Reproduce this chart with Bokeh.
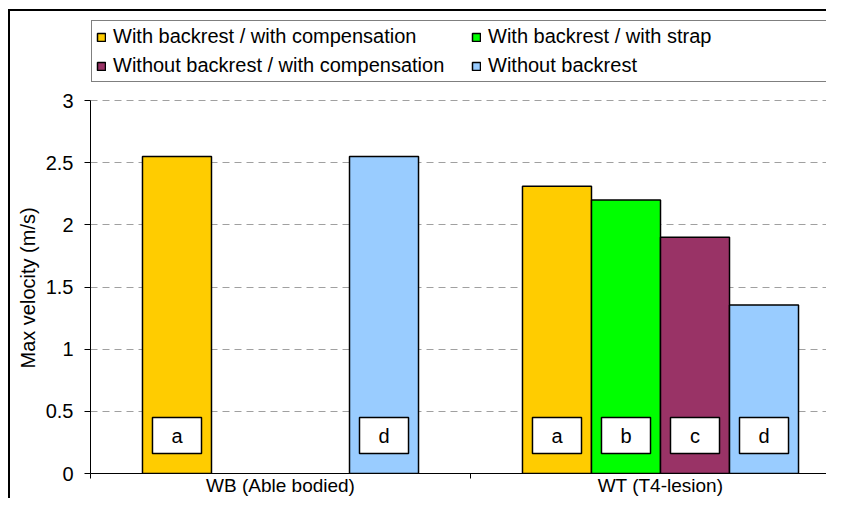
from bokeh.plotting import figure
from bokeh.models import FixedTicker, Legend, LegendItem, Range1d, Title
from bokeh.embed import file_html
from bokeh.resources import INLINE
from bokeh.core.properties import value

# ---- data ----
categories = ["WB (Able bodied)", "WT (T4-lesion)"]
series_names = [
    "With backrest / with compensation",
    "With backrest / with strap",
    "Without backrest / with compensation",
    "Without backrest",
]
series_letters = ["a", "b", "c", "d"]
series_colors = ["#FFCC00", "#00FF00", "#993366", "#99CCFF"]
with_backrest_comp = [2.55, 2.31]
with_backrest_strap = [None, 2.2]
without_backrest_comp = [None, 1.9]
without_backrest = [2.55, 1.355]
series_values = [with_backrest_comp, with_backrest_strap, without_backrest_comp, without_backrest]
y_ticks = [0, 0.5, 1, 1.5, 2, 2.5, 3]
y_tick_labels = ["0", "0.5", "1", "1.5", "2", "2.5", "3"]
y_title = "Max velocity (m/s)"

FONT = "Liberation Sans"
BAR_W = 0.1816
BOX_W = 0.129
BOX_BOTTOM, BOX_TOP = 0.16, 0.45
Y_MAX = 3
FIG_W, FIG_H = 826, 498
LEFT, TOP, BOTTOM = 90, 19, 25
FRAME_H = FIG_H - TOP - BOTTOM      # frame extends above the value axis to hold the legend
AXIS_H = 373                        # pixel height of 0..3
FRAME_W, CAT_W = FIG_W - LEFT, 380

p = figure(width=FIG_W, height=FIG_H, output_backend="svg", toolbar_location=None,
           x_range=Range1d(0, FRAME_W / CAT_W), y_range=Range1d(0, Y_MAX * FRAME_H / AXIS_H),
           min_border_left=LEFT, min_border_top=TOP, min_border_bottom=BOTTOM, min_border_right=0)
p.styles = {
    "background": "linear-gradient(#000,#000) 8px 9px / 2px 100% no-repeat, "
                  "linear-gradient(#000,#000) 8px 9px / 100% 2px no-repeat, #fff"
}
p.border_fill_alpha = 0
p.outline_line_color = None
p.background_fill_color = "white"

# axes
p.xaxis.ticker = FixedTicker(ticks=[0.5, 1.5], minor_ticks=[0, 1, 2])
p.xaxis.major_label_overrides = {0.5: categories[0], 1.5: categories[1]}
p.xaxis.major_tick_out = 0
p.xaxis.major_tick_in = 0
p.xaxis.minor_tick_out = 5
p.xaxis.minor_tick_in = 0
p.xaxis.minor_tick_line_color = "black"
p.xaxis.major_label_standoff = -4
p.xaxis.axis_label_standoff = 0
p.xaxis.axis_line_color = "black"

p.yaxis.ticker = FixedTicker(ticks=y_ticks)
p.yaxis.bounds = (0, Y_MAX)
p.yaxis.major_label_overrides = {t: l for t, l in zip(y_ticks, y_tick_labels)}
p.yaxis.major_tick_out = 6
p.yaxis.major_tick_in = 0
p.yaxis.minor_tick_line_color = None
p.yaxis.major_label_standoff = 11
p.yaxis.axis_label_standoff = 0
p.yaxis.axis_line_color = "black"
p.yaxis.major_tick_line_color = "black"

for ax in (p.xaxis, p.yaxis):
    ax.major_label_text_font = FONT
    ax.major_label_text_font_size = "20px"
    ax.major_label_text_color = "black"
p.xaxis.major_label_text_font_size = "19px"

# y-axis title, placed along the 0..3 part of the axis
p.add_layout(Title(text=y_title, align="left", offset=105, standoff=8,
                   text_font=FONT, text_font_size="20px", text_font_style="normal",
                   text_color="black"), "left")

p.xgrid.visible = False
p.ygrid.ticker = FixedTicker(ticks=y_ticks)
p.ygrid.grid_line_color = "#A0A0A0"
p.ygrid.grid_line_dash = "7 5"
p.ygrid.grid_line_width = 1

# bars
renderers = []
for i, vals in enumerate(series_values):
    xs, tops = [], []
    for c, v in enumerate(vals):
        if v is not None:
            xs.append(c + 0.5 + (i - 1.5) * BAR_W)
            tops.append(v)
    r = p.vbar(x=xs, top=tops, bottom=0, width=BAR_W, fill_color=series_colors[i],
               line_color="black", line_width=1.5)
    renderers.append(r)
    # letter boxes
    p.quad(left=[x - BOX_W / 2 for x in xs], right=[x + BOX_W / 2 for x in xs],
           bottom=BOX_BOTTOM, top=BOX_TOP, fill_color="white", line_color="black", line_width=1.5)
    p.text(x=xs, y=[(BOX_BOTTOM + BOX_TOP) / 2] * len(xs), text=[series_letters[i]] * len(xs),
           text_align="center", text_baseline="middle", text_font=value(FONT),
           text_font_size="20px", text_color="black")

legend = Legend(items=[LegendItem(label=series_names[i], renderers=[renderers[i]]) for i in range(4)],
                orientation="horizontal", ncols=2, location="top_left", margin=1,
                padding=4, spacing=6, label_height=23, glyph_height=10, glyph_width=10,
                label_standoff=7, label_width=352,
                border_line_color="black", border_line_width=1,
                background_fill_color="white", background_fill_alpha=1,
                label_text_font=FONT, label_text_font_size="20px", label_text_color="black")
p.add_layout(legend, "center")

open("out.html", "w").write(file_html(p, INLINE))
